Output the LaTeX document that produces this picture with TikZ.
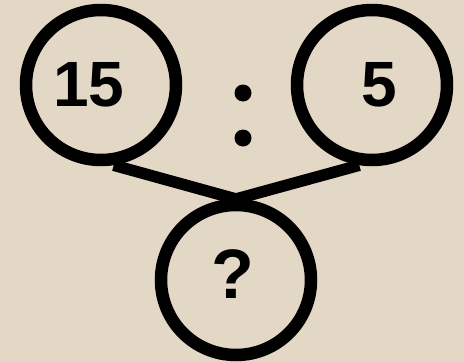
\documentclass[tikz,border=0pt]{standalone}
\usepackage{fontspec}
\setmainfont{Liberation Sans}
\usetikzlibrary{positioning, calc}

\definecolor{paper}{RGB}{226,216,197}

\tikzset{
  ring/.style={draw, circle, line width=12.5pt, minimum size=150pt, inner sep=0pt},
  num/.style={font=\fontsize{64}{64}\selectfont\bfseries, inner sep=0pt},
}

\begin{document}
\begin{tikzpicture}[x=1pt, y=-1pt]
  % фон
  \fill[paper] (0,0) rectangle (464,362);

  % Круги
  \node[ring] (left) at (101,85) {};
  \node[ring] (right) at (372,85) {};
  \node[ring] (res) at (236,280) {};

  % Числа
  \node[num] (a) at ($(left)+(-12,0)$) {15};
  \node[num] (b) at ($(right)+(7,0)$) {5};
  \node[num, font=\fontsize{70}{70}\selectfont\bfseries] (q) at ($(res)+(-3,-6)$) {?};

  % Знак деления
  \fill (243,93) circle (8.5) coordinate (dot1);
  \fill (243,138) circle (8.5) coordinate (dot2);

  % Линии
  \coordinate (top) at (236,199);
  \draw[line width=11.5pt, line join=miter] (left.-81) -- (top) -- (right.-99);
\end{tikzpicture}
\end{document}
